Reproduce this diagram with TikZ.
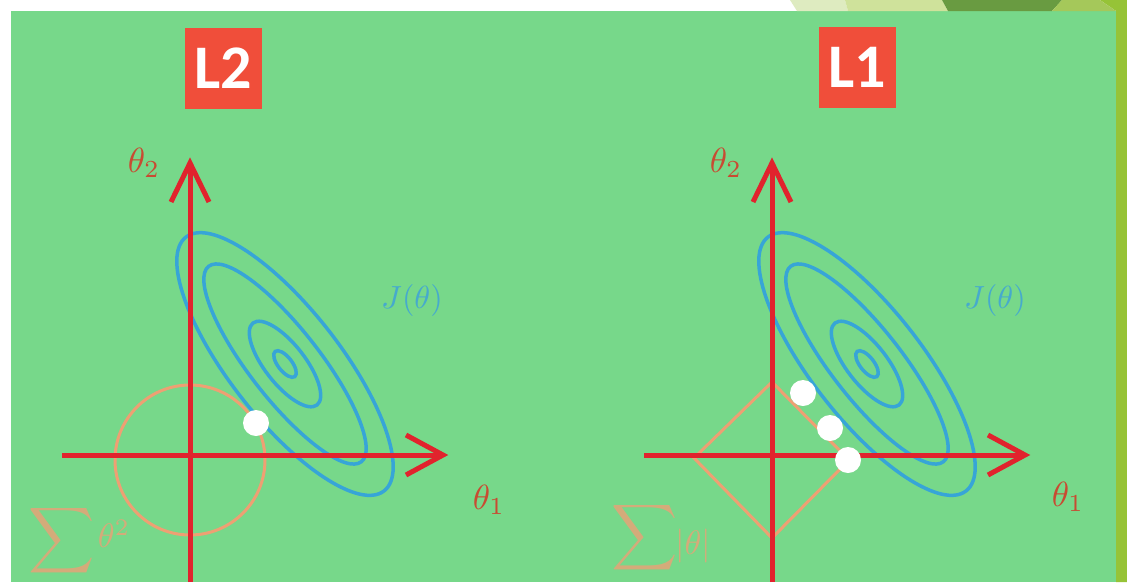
\documentclass[tikz,border=0pt]{standalone}
\usepackage{fontspec}
\newfontfamily\boxfont{Carlito}[BoldFont={Carlito Bold}]
\usetikzlibrary{calc}
\definecolor{bggreen}{RGB}{119,216,138}
\definecolor{stripgreen}{RGB}{150,195,55}
\definecolor{palegreen}{RGB}{222,235,192}
\definecolor{lightgreen}{RGB}{207,226,155}
\definecolor{darkgreen}{RGB}{105,155,65}
\definecolor{midgreen}{RGB}{165,200,90}
\definecolor{axisred}{RGB}{225,35,45}
\definecolor{boxred}{RGB}{240,78,58}
\definecolor{ringorange}{RGB}{238,160,115}
\definecolor{contourblue}{RGB}{55,165,215}
\definecolor{jblue}{RGB}{70,170,205}
\definecolor{thetared}{RGB}{200,75,50}
\definecolor{sumorange}{RGB}{236,160,118}
\tikzset{
  axis/.style={draw=axisred, line width=5pt},
  ring/.style={draw=ringorange, line width=3pt},
  contour/.style={draw=contourblue, line width=3.5pt},
  dot/.style={circle, fill=white, minimum size=26pt, inner sep=0pt},
  tag/.style={fill=boxred, text=white, minimum width=77pt, minimum height=81pt, inner sep=0pt, font=\boxfont\bfseries\fontsize{62}{62}\selectfont},
  thlabel/.style={text=thetared, scale=3.5, inner sep=0pt},
  jlabel/.style={text=jblue, scale=3.2, inner sep=0pt},
  sumsign/.style={text=sumorange, text opacity=0.8, scale=4.6, inner sep=0pt},
  sumterm/.style={text=sumorange, text opacity=0.8, scale=3.4, inner sep=0pt}
}
\begin{document}
\begin{tikzpicture}[x=1pt,y=-1pt]
\useasboundingbox (0,0) rectangle (1127,582);
% background
\fill[white] (0,0) rectangle (1127,582);
\fill[bggreen] (11,11) rectangle (1116,582);
\fill[stripgreen] (1100,0) -- (1127,0) -- (1127,582) -- (1116,582) -- (1116,11) -- cycle;
\fill[palegreen] (790,0) -- (845,0) -- (848,11) -- (797,11) -- cycle;
\fill[lightgreen] (845,0) -- (942,0) -- (948,11) -- (848,11) -- cycle;
\fill[darkgreen] (942,0) -- (1062,0) -- (1052,11) -- (948,11) -- cycle;
\fill[midgreen] (1062,0) -- (1100,0) -- (1116,11) -- (1052,11) -- cycle;

% ---------- L2 panel ----------
\node[tag] (tagL2) at (223.5,68) {L2};
\coordinate (L-xs) at (62,455);
\coordinate (L-xe) at (443,455);
\coordinate (L-ys) at (190,582);
\coordinate (L-ye) at (190,163);
\foreach \r/\b in {161/55,124/35,52/20,16/7}
  \draw[contour, shift={(285,364)}, rotate=-52] (0,0) ellipse [x radius=\r, y radius=\b];
\node[circle, ring, minimum size=150pt, inner sep=0pt] (L-ball) at (190,460) {};
\draw[axis] (L-xs) -- (L-xe);
\draw[axis] (L-ys) -- (L-ye);
\draw[axis] ($(L-xe)+(-37,-20)$) -- (L-xe) -- ($(L-xe)+(-37,20)$);
\draw[axis] ($(L-ye)+(-19,39)$) -- (L-ye) -- ($(L-ye)+(19,39)$);
\node[dot] (L-dot) at (256,423) {};
\node[thlabel] (L-t2) at (144,163) {$\theta_2$};
\node[thlabel] (L-t1) at (489,500) {$\theta_1$};
\node[jlabel] (L-J) at (412,300) {$J(\theta)$};
\node[sumsign] (L-sum) at (62,541) {$\displaystyle\sum$};
\node[sumterm] (L-term) at (114,534) {$\theta^2$};

% ---------- L1 panel ----------
\node[tag] (tagL1) at (857.5,67.5) {L1};
\coordinate (R-xs) at (644,455);
\coordinate (R-xe) at (1025,455);
\coordinate (R-ys) at (772,582);
\coordinate (R-ye) at (772,163);
\foreach \r/\b in {161/55,124/35,52/20,16/7}
  \draw[contour, shift={(867,364)}, rotate=-52] (0,0) ellipse [x radius=\r, y radius=\b];
\coordinate (D-t) at (772,382);
\coordinate (D-l) at (694,458);
\coordinate (D-b) at (772,538);
\coordinate (D-r) at (849,460);
\draw[ring] (D-t) -- (D-l) -- (D-b) -- (D-r) -- cycle;
\draw[axis] (R-xs) -- (R-xe);
\draw[axis] (R-ys) -- (R-ye);
\draw[axis] ($(R-xe)+(-37,-20)$) -- (R-xe) -- ($(R-xe)+(-37,20)$);
\draw[axis] ($(R-ye)+(-19,39)$) -- (R-ye) -- ($(R-ye)+(19,39)$);
\node[dot] (R-dot1) at (803,393) {};
\node[dot] (R-dot2) at (830,428) {};
\node[dot] (R-dot3) at (848,460) {};
\node[thlabel] (R-t2) at (726,163) {$\theta_2$};
\node[thlabel] (R-t1) at (1068,497) {$\theta_1$};
\node[jlabel] (R-J) at (995,300) {$J(\theta)$};
\node[sumsign] (R-sum) at (645,538) {$\displaystyle\sum$};
\node[sumterm] (R-term) at (693,546) {$|\theta|$};
\end{tikzpicture}
\end{document}
